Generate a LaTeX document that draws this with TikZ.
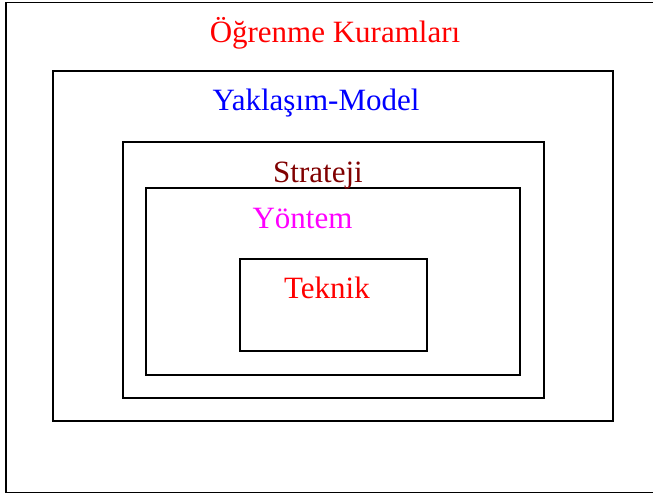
\documentclass[tikz,border=0pt]{standalone}
\usepackage{fontspec}
\setmainfont{Liberation Serif}
\definecolor{stratred}{HTML}{800000}
\definecolor{yonmag}{HTML}{FF00FF}
\tikzset{
  frame/.style={draw=black, line width=1.6pt, fill=none, inner sep=0pt, rectangle},
  lbl/.style={anchor=base, inner sep=0pt, font=\fontsize{31}{37}\selectfont}
}
\begin{document}
\begin{tikzpicture}[x=1pt,y=-1pt]
\useasboundingbox (0,0) rectangle (653,498);
\begin{scope}
\clip (0,0) rectangle (653,498);
\node[frame, minimum width=664pt, minimum height=490pt] (outer) at (338,247.5) {};
\end{scope}
\node[frame, minimum width=560pt, minimum height=350pt] (yak) at (333,246) {};
\node[frame, minimum width=421pt, minimum height=256pt] (str) at (333.5,270) {};
\node[frame, minimum width=374pt, minimum height=187pt] (yon) at (333,281.5) {};
\node[frame, minimum width=187pt, minimum height=92pt] (tek) at (333.5,305) {};
\node[lbl, text=red] (t1) at (335,42) {Öğrenme Kuramları};
\node[lbl, text=blue] (t2) at (316,110) {Yaklaşım-Model};
\node[lbl, text=stratred] (t3) at (318,182) {Strateji};
\node[lbl, text=yonmag] (t4) at (302.5,228) {Yöntem};
\node[lbl, text=red] (t5) at (327,298) {Teknik};
\end{tikzpicture}
\end{document}
